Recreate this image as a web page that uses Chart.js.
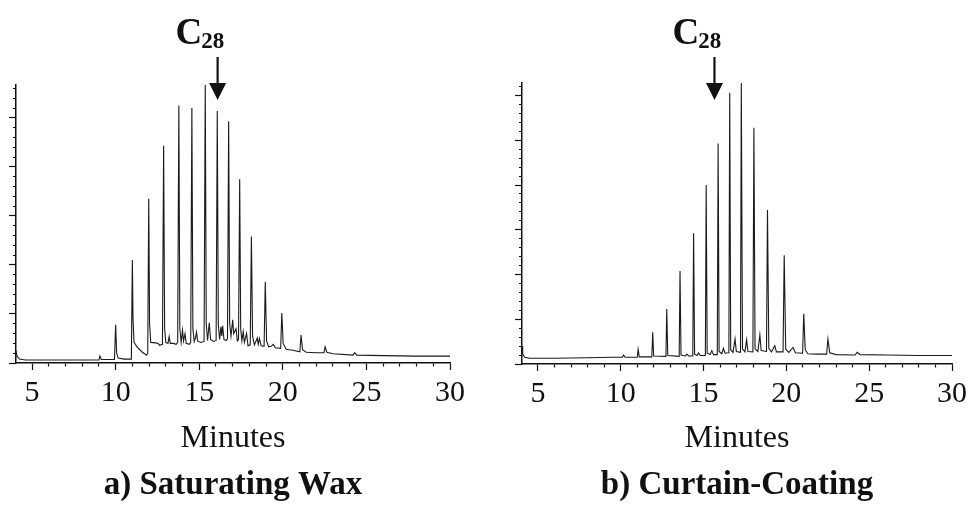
<!DOCTYPE html>
<html><head><meta charset="utf-8">
<script src="https://cdn.jsdelivr.net/npm/chart.js@4.4.1/dist/chart.umd.min.js"></script>
<style>
html,body{margin:0;padding:0;background:#fff;}
#wrap{position:relative;width:972px;height:505px;overflow:hidden;background:#fff;}
.pane{position:absolute;top:0;width:486px;height:505px;}
</style></head><body>
<div id="wrap">
<div class="pane" style="left:0"><canvas id="ca" width="486" height="505"></canvas></div>
<div class="pane" style="left:486px"><canvas id="cb" width="486" height="505"></canvas></div>
</div>
<script>
// ---- data ----
const timesA = [
 4.04, 4.10, 4.25, 4.60, 6.00, 8.00, 9.00, 9.06, 9.14, 9.93,
 10.00, 10.06, 10.15, 10.50, 10.94, 11.00, 11.04, 11.10, 11.30, 11.60,
 11.85, 11.92, 11.98, 12.03, 12.10, 12.40, 12.55, 12.62, 12.80, 12.87,
 12.93, 13.00, 13.13, 13.20, 13.27, 13.45, 13.62, 13.71, 13.78, 13.84,
 13.92, 14.00, 14.06, 14.15, 14.22, 14.40, 14.49, 14.56, 14.62, 14.70,
 14.78, 14.84, 14.90, 15.10, 15.29, 15.36, 15.42, 15.50, 15.60, 15.68,
 15.85, 16.01, 16.08, 16.14, 16.22, 16.30, 16.35, 16.40, 16.48, 16.62,
 16.69, 16.76, 16.82, 16.90, 17.00, 17.06, 17.20, 17.28, 17.35, 17.42,
 17.48, 17.55, 17.63, 17.70, 17.83, 17.92, 18.05, 18.12, 18.19, 18.30,
 18.47, 18.53, 18.60, 18.70, 18.88, 18.95, 19.03, 19.15, 19.30, 19.43,
 19.55, 19.87, 19.94, 20.02, 20.20, 20.60, 21.02, 21.09, 21.18, 21.40,
 22.00, 22.46, 22.53, 22.63, 23.00, 24.20, 24.30, 24.42, 26.00, 28.00,
 30.00
];
const signalA = [
 0.25, 0.14, 0.08, 0.06, 0.06, 0.06, 0.06, 0.14, 0.07, 0.07,
 0.78, 0.20, 0.10, 0.08, 0.08, 2.10, 0.90, 0.42, 0.32, 0.22,
 0.16, 0.20, 3.35, 0.80, 0.42, 0.41, 0.40, 0.36, 0.38, 4.43,
 0.70, 0.42, 0.40, 0.54, 0.40, 0.40, 0.38, 0.42, 5.25, 0.70,
 0.42, 0.67, 0.45, 0.60, 0.40, 0.38, 0.42, 5.20, 0.70, 0.44,
 0.52, 0.63, 0.45, 0.42, 0.44, 5.67, 0.80, 0.46, 0.82, 0.48,
 0.44, 0.46, 5.14, 0.80, 0.48, 0.74, 0.55, 0.76, 0.48, 0.46,
 0.50, 4.93, 0.80, 0.55, 0.88, 0.60, 0.70, 0.45, 0.48, 3.75,
 0.70, 0.45, 0.64, 0.42, 0.60, 0.35, 0.37, 2.58, 0.55, 0.37,
 0.51, 0.38, 0.50, 0.35, 0.34, 1.65, 0.45, 0.33, 0.34, 0.38,
 0.31, 0.30, 1.02, 0.40, 0.28, 0.26, 0.23, 0.57, 0.27, 0.22,
 0.21, 0.21, 0.33, 0.22, 0.19, 0.16, 0.21, 0.16, 0.15, 0.14,
 0.14
];
const timesB = [
 4.04, 4.08, 4.20, 4.50, 6.00, 8.00, 9.50, 10.10, 10.17, 10.26,
 11.00, 11.05, 11.12, 11.88, 11.93, 11.99, 12.73, 12.78, 12.84, 13.53,
 13.58, 13.64, 13.90, 14.00, 14.10, 14.35, 14.40, 14.46, 14.62, 14.70,
 14.80, 15.11, 15.16, 15.22, 15.40, 15.50, 15.60, 15.83, 15.88, 15.94,
 16.10, 16.20, 16.30, 16.53, 16.58, 16.64, 16.78, 16.90, 16.98, 17.23,
 17.28, 17.35, 17.50, 17.60, 17.68, 17.98, 18.04, 18.11, 18.28, 18.40,
 18.48, 18.80, 18.86, 18.94, 19.10, 19.30, 19.40, 19.80, 19.87, 19.96,
 20.15, 20.40, 20.55, 20.98, 21.05, 21.14, 21.30, 21.80, 22.43, 22.51,
 22.62, 23.00, 24.15, 24.27, 24.45, 26.00, 28.00, 30.00
];
const signalB = [
 0.40, 0.22, 0.15, 0.13, 0.13, 0.14, 0.15, 0.15, 0.20, 0.15,
 0.15, 0.33, 0.16, 0.16, 0.71, 0.18, 0.17, 1.23, 0.19, 0.17,
 2.08, 0.20, 0.18, 0.22, 0.18, 0.18, 2.92, 0.22, 0.19, 0.25,
 0.19, 0.19, 4.00, 0.24, 0.21, 0.30, 0.21, 0.21, 4.93, 0.28,
 0.23, 0.35, 0.24, 0.25, 6.06, 0.32, 0.26, 0.56, 0.28, 0.26,
 6.28, 0.34, 0.27, 0.54, 0.28, 0.27, 5.28, 0.34, 0.28, 0.65,
 0.30, 0.28, 3.44, 0.35, 0.27, 0.41, 0.27, 0.27, 2.43, 0.33,
 0.26, 0.37, 0.25, 0.24, 1.12, 0.32, 0.23, 0.22, 0.22, 0.56,
 0.25, 0.21, 0.20, 0.26, 0.21, 0.20, 0.19, 0.19
];
const panelTitles = ['a) Saturating Wax', 'b) Curtain-Coating'];
const xAxisTitle = 'Minutes';
const xTickLabels = [5, 10, 15, 20, 25, 30];
const xRange = [4.04, 30];
const yTop = [5.67, 6.28];
const peakName = ['C', '28'];
const peakArrowTimes = [16.1, 15.66];

// ---- helpers ----
const INK = '#111';
const SERIF = '"Liberation Serif", "Times New Roman", serif';
const xMinorTicks = [];
for (let v = xTickLabels[0]; v <= xTickLabels[xTickLabels.length - 1]; v++) xMinorTicks.push(v);
function yTicksFor(top) {
  const arr = [];
  for (let i = 0; i * 0.2 <= top + 1e-9; i++) arr.push(Math.round(i * 2) / 10);
  return arr;
}
const isMajorX = v => xTickLabels.includes(v);
const isMajorY = v => Math.abs(v - Math.round(v)) < 1e-6;

const c28Plugin = {
  id: 'c28',
  afterDraw(chart, args, opts) {
    const ctx = chart.ctx;
    const x = chart.scales.x.getPixelForValue(opts.time);
    ctx.save();
    ctx.strokeStyle = INK; ctx.fillStyle = INK;
    ctx.lineWidth = 2.2;
    ctx.beginPath(); ctx.moveTo(x, 57); ctx.lineTo(x, 86); ctx.stroke();
    ctx.beginPath(); ctx.moveTo(x - 8.5, 83); ctx.lineTo(x + 8.5, 83); ctx.lineTo(x, 100); ctx.closePath(); ctx.fill();
    ctx.textAlign = 'left'; ctx.textBaseline = 'alphabetic';
    ctx.font = 'bold 37px ' + SERIF;
    const cx = x - 42;
    ctx.fillText(peakName[0], cx, 44);
    const w = ctx.measureText(peakName[0]).width;
    ctx.font = 'bold 23px ' + SERIF;
    ctx.fillText(peakName[1], cx + w - 1, 48);
    ctx.restore();
  }
};

function makeChart(id, times, signal, idx, pad, xHeight) {
  const data = times.map((t, i) => ({x: t, y: signal[i]}));
  const yTicks = yTicksFor(yTop[idx]);
  return new Chart(document.getElementById(id), {
    type: 'scatter',
    data: {datasets: [{
      data, showLine: true, pointRadius: 0, borderColor: '#1a1a1a', borderWidth: 1.1, tension: 0
    }]},
    plugins: [c28Plugin],
    options: {
      responsive: false, animation: false,
      layout: {padding: pad},
      plugins: {
        legend: {display: false}, tooltip: {enabled: false},
        title: {display: true, text: panelTitles[idx], position: 'bottom', fullSize: false,
          color: INK, font: {family: SERIF, size: 33, weight: 'bold', lineHeight: 1.2},
          padding: {top: 7, bottom: 0}},
        c28: {time: peakArrowTimes[idx]}
      },
      scales: {
        x: {
          type: 'linear', min: xRange[0], max: xRange[1],
          afterBuildTicks: s => { s.ticks = xMinorTicks.map(v => ({value: v})); },
          afterFit: s => { s.height = xHeight; },
          border: {display: true, color: INK, width: 1.5},
          grid: {drawOnChartArea: false, drawTicks: true, tickLength: 7, tickColor: INK, tickWidth: 1.2,
            tickBorderDash: c => (c.tick && isMajorX(c.tick.value)) ? [] : [3, 20]},
          ticks: {autoSkip: false, maxRotation: 0, padding: 5, color: INK,
            font: {family: SERIF, size: 30, lineHeight: 1.2},
            callback: v => isMajorX(v) ? String(v) : ''},
          title: {display: true, text: xAxisTitle, color: INK,
            font: {family: SERIF, size: 32, lineHeight: 1.2}, padding: {top: 0, bottom: 1}}
        },
        y: {
          type: 'linear', min: 0, max: yTop[idx],
          afterBuildTicks: s => { s.ticks = yTicks.map(v => ({value: v})); },
          afterFit: s => { s.width = 8; },
          border: {display: true, color: INK, width: 1.5},
          grid: {drawOnChartArea: false, drawTicks: true, tickLength: 7, tickColor: INK, tickWidth: 1.2,
            tickBorderDash: c => (c.tick && isMajorY(c.tick.value)) ? [] : [0, 4, 3, 20]},
          ticks: {display: false}
        }
      }
    }
  });
}

makeChart('ca', timesA, signalA, 0, {left: 8, right: 36, top: 85, bottom: 0}, 95.4);
makeChart('cb', timesB, signalB, 1, {left: 28, right: 18, top: 83, bottom: 0}, 94.4);
</script>
</body></html>
